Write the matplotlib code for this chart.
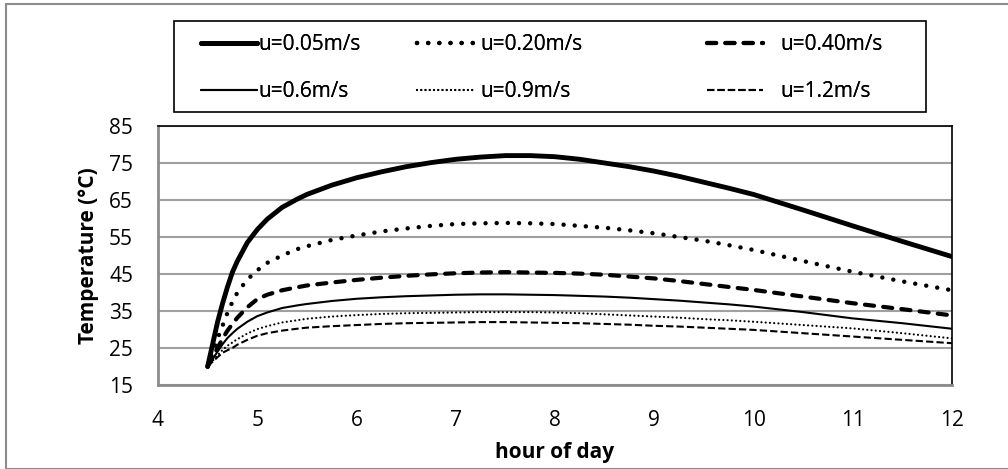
import matplotlib.pyplot as plt
from matplotlib.patches import Rectangle

plt.rcParams['font.family'] = ['Open Sans', 'DejaVu Sans']

# data: hour of day vs temperature for each air speed
hours = [4.5, 4.55, 4.6, 4.65, 4.7, 4.75, 4.8, 4.9, 5, 5.1, 5.25, 5.4, 5.5, 5.75, 6, 6.25, 6.5, 6.75,
         7, 7.25, 7.5, 7.75, 8, 8.25, 8.5, 8.75, 9, 9.25, 9.5, 9.75, 10, 10.5, 11, 11.5, 12]
t_005 = [20, 26, 32, 37, 41.5, 45.5, 48.5, 53.5, 57, 59.8, 63, 65.2, 66.5, 69, 71, 72.6, 74, 75.1,
         76, 76.6, 77, 77, 76.7, 76, 75, 74, 72.8, 71.4, 69.8, 68.2, 66.5, 62.3, 58, 53.8, 49.7]
t_020 = [20, 23.5, 27.5, 31, 34.5, 37.5, 40, 43.5, 46, 48, 50, 51.7, 52.5, 54.2, 55.4, 56.5, 57.3, 58,
         58.5, 58.7, 58.8, 58.7, 58.5, 58, 57.5, 56.8, 56, 55, 54, 52.8, 51.5, 48.5, 45.6, 43, 40.6]
t_040 = [20, 22.5, 25, 27.5, 29.7, 31.5, 33.2, 36, 38.2, 39.4, 40.6, 41.4, 41.9, 42.7, 43.4, 44, 44.5, 44.9,
         45.2, 45.4, 45.5, 45.4, 45.3, 45.1, 44.8, 44.3, 43.8, 43.1, 42.3, 41.5, 40.7, 38.9, 37.1, 35.5, 33.8]
t_060 = [20, 22, 24, 26, 27.7, 29, 30.2, 32.1, 33.6, 34.6, 35.8, 36.5, 36.9, 37.7, 38.3, 38.7, 39, 39.2,
         39.4, 39.5, 39.5, 39.4, 39.3, 39.1, 38.9, 38.6, 38.2, 37.8, 37.3, 36.8, 36.2, 34.7, 33, 31.7, 30.2]
t_090 = [20, 21.5, 23, 24.5, 25.6, 26.5, 27.4, 28.9, 30.1, 30.9, 31.9, 32.5, 32.9, 33.5, 33.9, 34.2, 34.4, 34.5,
         34.6, 34.7, 34.7, 34.7, 34.6, 34.4, 34.1, 33.8, 33.5, 33.2, 32.8, 32.5, 32.1, 31.2, 30.3, 29, 27.6]
t_120 = [20, 21.3, 22.5, 23.7, 24.4, 25, 25.9, 27.2, 28.3, 29, 29.7, 30.2, 30.5, 30.9, 31.2, 31.5, 31.7, 31.8,
         31.9, 32, 32, 31.9, 31.8, 31.7, 31.5, 31.3, 31, 30.8, 30.5, 30.2, 29.9, 29, 28.1, 27.2, 26.3]

labels = ['u=0.05m/s', 'u=0.20m/s', 'u=0.40m/s', 'u=0.6m/s', 'u=0.9m/s', 'u=1.2m/s']
series = [t_005, t_020, t_040, t_060, t_090, t_120]
styles = [
    dict(lw=3.5, ls='-'),
    dict(lw=3.2, ls=(0, (0.01, 2.5)), dash_capstyle='round'),
    dict(lw=3.0, ls=(0, (2.2, 2.2)), dash_capstyle='round'),
    dict(lw=1.5, ls='-'),
    dict(lw=1.6, ls=(0, (0.01, 1.9)), dash_capstyle='round'),
    dict(lw=1.5, ls=(0, (3.5, 1.5))),
]

fig = plt.figure(figsize=(10.08, 4.69), dpi=100)
ax = fig.add_axes([158/1008, 1-385/469, (952-158)/1008, (385-126)/469])

# outer chart border
fig.patches.append(Rectangle((6/1008, 0), 1.0, 1-4/469, transform=fig.transFigure,
                             fill=False, ec='#8c8c8c', lw=1.5))

lines = []
for y, lab, st in zip(series, labels, styles):
    l, = ax.plot(hours, y, color='black', label=lab, solid_capstyle='round',
                 solid_joinstyle='round', **st)
    lines.append(l)

ax.set_xlim(4, 12)
ax.set_ylim(15, 85)
ax.set_xticks(range(4, 13))
ax.set_yticks(range(15, 86, 10))
ax.yaxis.grid(True, color='#a0a0a0', lw=1.5)
ax.set_axisbelow(True)
ax.tick_params(length=0, labelsize=15)
ax.tick_params(axis='y', pad=18)
ax.tick_params(axis='x', pad=18)
for s in ['left', 'bottom']:
    ax.spines[s].set_color('#8c8c8c')
    ax.spines[s].set_linewidth(2)
for s in ['top', 'right']:
    ax.spines[s].set_color('black')
    ax.spines[s].set_linewidth(1.2)

ax.set_xlabel('hour of day', fontsize=15, fontweight='bold', labelpad=8)
ax.set_ylabel('Temperature (°C)', fontsize=15, fontweight='bold', labelpad=7)

# legend box and three columns
fig.patches.append(Rectangle((174/1008, 1-112/469), (926-174)/1008, (112-21)/469,
                             transform=fig.transFigure, fill=False, ec='black', lw=1.2))
col_x = [201, 417, 707]
pads = [0.05, 0.35, 0.8]
for i, x0 in enumerate(col_x):
    lg = fig.legend([lines[i], lines[i+3]], [labels[i], labels[i+3]], loc='upper left',
                    bbox_to_anchor=(x0/1008, 1-34/469), frameon=False, fontsize=15,
                    borderpad=0, borderaxespad=0, handlelength=2.7,
                    handletextpad=pads[i], labelspacing=1.25)
    fig.add_artist(lg)

fig.savefig('out.png', dpi=100)
